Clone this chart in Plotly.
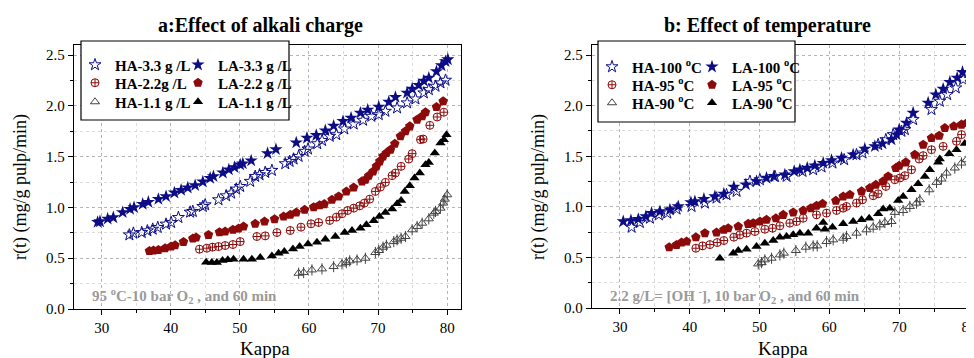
import plotly.graph_objects as go

# ---------------- Panel a: effect of alkali charge ----------------
a_la33_k = [29.42,29.76,30.87,31.69,33.04,34.11,34.69,35.94,36.76,38.21,39.32,40.53,41.50,42.46,43.53,44.64,45.70,46.18,47.54,48.41,49.23,50.05,50.43,51.64,54.01,55.22,58.16,59.71,61.06,62.37,63.57,64.93,66.09,67.44,68.50,70.10,71.55,72.51,74.20,74.93,75.89,76.62,77.34,78.45,79.18,79.76,80.10]
a_la33_r = [0.855,0.862,0.888,0.901,0.951,0.984,1.000,1.033,1.053,1.082,1.109,1.145,1.171,1.194,1.217,1.253,1.289,1.306,1.342,1.372,1.395,1.421,1.431,1.461,1.533,1.572,1.638,1.684,1.711,1.757,1.803,1.849,1.882,1.931,1.961,1.990,2.039,2.086,2.128,2.168,2.204,2.247,2.276,2.339,2.398,2.438,2.457]

a_ha33_k = [34.01,34.59,35.80,36.62,37.39,38.12,39.32,40.05,41.11,42.80,43.19,44.64,44.98,46.91,48.02,48.74,49.47,50.05,51.50,52.22,52.85,53.67,54.64,56.57,57.20,57.78,58.50,59.37,59.86,61.20,61.90,63.00,63.96,65.12,66.47,67.83,69.03,70.10,71.06,72.75,74.20,75.41,76.62,77.34,78.31,79.03,79.76]
a_ha33_r = [0.730,0.747,0.753,0.770,0.786,0.803,0.836,0.852,0.901,0.954,0.961,1.010,1.026,1.076,1.115,1.141,1.181,1.207,1.257,1.306,1.322,1.345,1.365,1.431,1.454,1.477,1.503,1.553,1.576,1.628,1.660,1.701,1.717,1.773,1.822,1.859,1.898,1.914,1.947,1.980,2.030,2.069,2.128,2.161,2.194,2.227,2.253]

a_la22_k = [36.91,37.49,38.21,39.18,40.05,40.63,41.84,43.19,43.67,45.46,47.05,47.87,48.99,49.81,50.53,52.22,53.57,55.02,56.33,57.29,58.16,59.37,60.68,61.55,62.22,63.33,64.30,65.41,66.47,67.68,68.16,68.65,69.28,69.76,70.24,70.72,71.21,71.79,72.42,73.24,73.96,74.59,75.65,76.38,76.86,78.45,79.42]
a_la22_r = [0.572,0.576,0.582,0.599,0.615,0.628,0.661,0.694,0.704,0.730,0.757,0.763,0.780,0.793,0.813,0.839,0.862,0.885,0.911,0.928,0.951,0.977,1.003,1.023,1.033,1.076,1.109,1.158,1.197,1.257,1.273,1.313,1.355,1.405,1.454,1.503,1.536,1.569,1.628,1.701,1.750,1.799,1.865,1.898,1.938,1.990,2.046]

a_ha22_k = [44.15,45.22,46.04,46.91,47.87,48.99,50.05,52.46,53.67,55.36,57.29,58.84,60.29,61.40,63.00,63.96,64.78,65.60,66.47,67.34,68.02,68.79,69.61,70.34,71.06,72.03,72.51,73.33,74.44,74.93,76.14,76.52,77.49,78.55,79.52]
a_ha22_r = [0.589,0.599,0.609,0.615,0.625,0.635,0.664,0.714,0.720,0.753,0.773,0.806,0.839,0.852,0.872,0.905,0.938,0.970,0.993,1.016,1.043,1.082,1.158,1.201,1.247,1.313,1.339,1.405,1.477,1.530,1.668,1.674,1.809,1.891,1.938]

a_la11_k = [45.12,45.94,46.67,47.49,48.26,49.08,50.53,51.74,52.95,54.64,55.60,56.43,57.68,58.65,59.86,61.16,62.37,63.82,65.17,66.23,67.44,68.31,69.37,70.19,71.06,72.03,72.75,73.33,73.86,74.59,75.27,76.04,76.86,77.34,78.21,79.03,79.52,79.90]
a_la11_r = [0.461,0.457,0.457,0.477,0.484,0.490,0.490,0.490,0.507,0.523,0.549,0.566,0.592,0.615,0.641,0.658,0.688,0.714,0.753,0.773,0.796,0.829,0.868,0.911,0.951,0.984,1.036,1.069,1.158,1.214,1.289,1.339,1.421,1.444,1.536,1.635,1.668,1.717]

a_ha11_k = [58.50,59.23,60.43,61.88,63.57,64.78,65.41,65.89,66.96,68.16,69.61,70.10,70.72,71.21,72.27,72.75,73.33,73.96,74.93,75.65,76.38,77.34,78.07,78.31,79.03,79.42,79.66,80.00]
a_ha11_r = [0.352,0.359,0.385,0.395,0.418,0.444,0.457,0.474,0.484,0.500,0.556,0.576,0.609,0.628,0.664,0.681,0.697,0.714,0.780,0.813,0.845,0.888,0.944,0.961,0.993,1.043,1.082,1.125]

# ---------------- Panel b: effect of temperature ----------------
b_la100_k = [30.48,31.58,32.63,33.72,34.53,35.73,37.16,38.35,40.17,40.74,42.03,43.60,44.89,46.32,48.04,49.57,51.00,52.05,53.63,54.96,55.78,56.83,57.92,59.12,60.31,61.74,63.41,65.08,66.52,67.61,68.90,69.62,70.00,71.05,72.00,74.15,75.25,76.30,77.26,78.31,79.07]
b_la100_r = [0.855,0.865,0.878,0.905,0.938,0.954,0.971,1.004,1.044,1.054,1.077,1.103,1.129,1.196,1.219,1.252,1.285,1.301,1.318,1.351,1.367,1.384,1.407,1.433,1.460,1.483,1.516,1.572,1.598,1.625,1.664,1.714,1.764,1.830,1.929,2.028,2.110,2.166,2.233,2.275,2.332]

b_ha100_k = [31.67,32.86,34.30,35.58,36.78,38.11,40.26,42.17,43.84,45.27,46.71,48.62,50.05,52.20,53.87,56.16,57.68,58.88,60.45,62.12,63.89,64.75,66.99,68.09,69.14,70.33,70.81,72.00,74.63,75.82,76.87,78.11,79.16]
b_ha100_r = [0.799,0.845,0.888,0.921,0.938,0.978,1.004,1.037,1.087,1.120,1.153,1.252,1.268,1.301,1.301,1.351,1.367,1.394,1.433,1.466,1.516,1.532,1.615,1.664,1.714,1.747,1.764,1.863,1.962,2.044,2.110,2.176,2.259]

b_la95_k = [37.06,38.11,38.83,39.55,40.88,42.17,43.84,44.89,45.51,46.95,48.38,49.09,50.05,51.00,52.34,53.39,54.82,56.25,57.35,58.16,59.02,60.93,61.98,62.94,64.61,65.80,66.66,67.71,68.42,69.52,70.00,70.95,72.24,73.44,74.63,75.73,76.54,77.83,78.93,79.74]
b_la95_r = [0.601,0.624,0.647,0.657,0.700,0.740,0.746,0.773,0.789,0.806,0.832,0.839,0.855,0.872,0.888,0.921,0.945,0.964,0.987,1.011,1.030,1.060,1.103,1.120,1.153,1.186,1.219,1.252,1.301,1.384,1.407,1.440,1.516,1.615,1.681,1.704,1.780,1.797,1.813,1.830]

b_ha95_k = [40.88,41.84,42.89,43.94,44.89,46.32,47.18,48.14,49.33,50.76,51.86,52.91,54.34,55.30,56.25,58.16,59.59,61.03,61.98,62.46,63.89,64.75,66.28,66.99,68.09,69.38,70.10,70.81,71.77,72.86,73.44,74.63,76.30,78.21,78.93]
b_ha95_r = [0.591,0.614,0.627,0.647,0.667,0.700,0.723,0.740,0.756,0.779,0.789,0.812,0.839,0.855,0.888,0.921,0.938,0.964,0.987,1.004,1.037,1.070,1.110,1.129,1.202,1.268,1.285,1.308,1.367,1.473,1.506,1.565,1.598,1.648,1.714]

b_la90_k = [44.32,46.23,46.95,48.14,49.57,50.76,51.96,52.91,53.87,54.82,55.78,56.97,58.16,59.12,59.36,60.45,61.98,63.41,64.61,65.70,66.99,67.71,68.66,69.86,70.57,71.77,72.72,73.68,74.39,75.58,75.82,77.16,78.21,79.40]
b_la90_r = [0.492,0.542,0.568,0.581,0.608,0.641,0.667,0.700,0.707,0.723,0.740,0.740,0.789,0.845,0.779,0.799,0.832,0.855,0.872,0.888,0.931,0.978,0.987,1.063,1.103,1.169,1.229,1.301,1.367,1.440,1.473,1.526,1.565,1.625]

b_ha90_k = [49.81,50.29,50.76,51.72,52.91,53.48,55.20,56.63,57.68,58.26,59.59,60.55,61.98,62.46,63.89,65.32,66.28,67.23,67.95,68.90,69.38,70.57,71.53,72.48,72.96,74.30,75.35,76.06,76.78,77.97,78.93,79.64]
b_ha90_r = [0.436,0.449,0.476,0.492,0.525,0.542,0.568,0.601,0.614,0.614,0.657,0.674,0.690,0.707,0.740,0.773,0.799,0.822,0.845,0.855,0.945,0.964,1.004,1.037,1.070,1.169,1.242,1.275,1.334,1.384,1.433,1.466]

# ---------------- Text ----------------
title_a = "a:Effect of alkali charge"
title_b = "b: Effect of temperature"
x_title = "Kappa"
y_title = "r(t) (mg/g pulp/min)"
note_a = "95 <sup>o</sup>C-10 bar O<sub>2</sub> , and 60 min"
note_b = "2.2 g/L= [OH <sup>-</sup>], 10 bar O<sub>2</sub> , and 60 min"
x_ticks = [30, 40, 50, 60, 70, 80]
y_ticks = [0.0, 0.5, 1.0, 1.5, 2.0, 2.5]

NAVY = "#0c0c86"
RED = "#8c0a0a"
GREY = "#444444"
BLACK = "#000000"
SERIF = "Liberation Serif, Times New Roman, serif"

# the page body has an 8 px margin: the figure is placed at (8, 8) in the window
OFF = 8
W, H = 974 - OFF, 358 - OFF
def px(x):
    return (x - OFF) / W
def py(y):
    return (H - (y - OFF)) / H

fig = go.Figure()

def add(k, r, name, symbol, color, size, xa, ya, legend, open_=False, show=True):
    marker = dict(symbol=symbol, color=color, size=size)
    if open_:
        marker["line"] = dict(color=color, width=1)
    else:
        marker["line"] = dict(width=0)
    fig.add_trace(go.Scatter(x=k, y=r, mode="markers", name=name, marker=marker,
                             xaxis=xa, yaxis=ya, legend=legend, showlegend=show))

# panel a
add(a_ha33_k, a_ha33_r, "HA-3.3 g /L", "star-open", NAVY, 9, "x", "y", "legend", True)
add(a_ha22_k, a_ha22_r, "HA-2.2g /L", "circle-cross-open", RED, 8, "x", "y", "legend2", True)
add(a_ha11_k, a_ha11_r, "HA-1.1 g /L", "triangle-up-open", GREY, 8, "x", "y", "legend3", True)
add(a_ha11_k, a_ha11_r, "HA-1.1 g /L", "line-ns-open", GREY, 8, "x", "y", "legend3", True, False)
add(a_la33_k, a_la33_r, "LA-3.3 g /L", "star", NAVY, 10, "x", "y", "legend4")
add(a_la22_k, a_la22_r, "LA-2.2 g /L", "pentagon", RED, 10, "x", "y", "legend5")
add(a_la11_k, a_la11_r, "LA-1.1 g /L", "triangle-up", BLACK, 9, "x", "y", "legend6")
# panel b
add(b_ha100_k, b_ha100_r, "HA-100 <sup>o</sup>C", "star-open", NAVY, 9, "x2", "y2", "legend7", True)
add(b_ha95_k, b_ha95_r, "HA-95 <sup>o</sup>C", "circle-cross-open", RED, 8, "x2", "y2", "legend8", True)
add(b_ha90_k, b_ha90_r, "HA-90 <sup>o</sup>C", "triangle-up-open", GREY, 8, "x2", "y2", "legend9", True)
add(b_ha90_k, b_ha90_r, "HA-90 <sup>o</sup>C", "line-ns-open", GREY, 8, "x2", "y2", "legend9", True, False)
add(b_la100_k, b_la100_r, "LA-100 <sup>o</sup>C", "star", NAVY, 10, "x2", "y2", "legend10")
add(b_la95_k, b_la95_r, "LA-95 <sup>o</sup>C", "pentagon", RED, 10, "x2", "y2", "legend11")
add(b_la90_k, b_la90_r, "LA-90 <sup>o</sup>C", "triangle-up", BLACK, 9, "x2", "y2", "legend12")

AX_FONT = dict(family=SERIF, size=15, color="black")

def xaxis(domain, rng, anchor):
    return dict(domain=domain, range=rng, anchor=anchor, tickvals=x_ticks,
                ticks="outside", ticklen=5, tickwidth=1, tickcolor="black",
                ticklabeloverflow="allow",
                showline=True, linecolor="black", linewidth=1.3, mirror=True,
                showgrid=True, gridcolor="#b4b4b4", griddash="dot", gridwidth=1,
                minor=dict(dtick=5, tick0=0, ticks="outside", ticklen=3, tickcolor="black",
                           showgrid=True, gridcolor="#dcdcdc", griddash="dot"),
                zeroline=False, automargin=False, tickfont=AX_FONT)

def yaxis(domain, anchor):
    return dict(domain=domain, range=[0, 2.6], anchor=anchor, tickvals=y_ticks,
                tickformat=".1f",
                ticks="outside", ticklen=5, tickwidth=1, tickcolor="black",
                showline=True, linecolor="black", linewidth=1.3, mirror=True,
                showgrid=True, gridcolor="#b4b4b4", griddash="dot", gridwidth=1,
                minor=dict(dtick=0.25, tick0=0, ticks="outside", ticklen=3, tickcolor="black",
                           showgrid=True, gridcolor="#dcdcdc", griddash="dot"),
                zeroline=False, automargin=False, tickfont=AX_FONT)

def top_axis(over, anchor, rng):
    return dict(overlaying=over, anchor=anchor, side="top", range=rng, tickvals=x_ticks,
                ticks="inside", ticklen=5, tickcolor="black", showticklabels=False,
                showgrid=False, zeroline=False, showline=False, automargin=False,
                minor=dict(dtick=5, tick0=0, ticks="inside", ticklen=3, tickcolor="black",
                           showgrid=False))

def right_axis(over, anchor):
    return dict(overlaying=over, anchor=anchor, side="right", range=[0, 2.6], tickvals=y_ticks,
                ticks="inside", ticklen=5, tickcolor="black", showticklabels=False,
                showgrid=False, zeroline=False, showline=False, automargin=False,
                minor=dict(dtick=0.25, tick0=0, ticks="inside", ticklen=3, tickcolor="black",
                           showgrid=False))

xdom_a = [px(74), px(461)]
xdom_b = [px(592), 1.0]
ydom_a = [py(309), py(45)]
ydom_b = [py(308), py(45)]
xr_a = [26, 82]
xr_b = [26, 80.72]

LEG_FONT = dict(family=SERIF, size=15, color="black", weight="bold")

def legend(text_x, row_y):
    return dict(x=px(text_x - 40), y=py(row_y), xanchor="left", yanchor="middle",
                xref="paper", yref="paper", bgcolor="rgba(0,0,0,0)", borderwidth=0,
                itemwidth=30, font=LEG_FONT)

legends = {}
rows_a = [65, 83, 102]
rows_b = [67, 85, 103]
names = ["legend", "legend2", "legend3", "legend4", "legend5", "legend6",
         "legend7", "legend8", "legend9", "legend10", "legend11", "legend12"]
pos = ([(115, y) for y in rows_a] + [(218, y) for y in rows_a]
       + [(632, y) for y in rows_b] + [(732, y) for y in rows_b])
for n, (tx, ty) in zip(names, pos):
    legends[n] = legend(tx, ty)

fig.update_layout(
    width=W, height=H,
    margin=dict(l=0, r=0, t=0, b=0),
    paper_bgcolor="white", plot_bgcolor="white",
    xaxis=xaxis(xdom_a, xr_a, "y"),
    yaxis=yaxis(ydom_a, "x"),
    xaxis2=xaxis(xdom_b, xr_b, "y2"),
    yaxis2=yaxis(ydom_b, "x2"),
    xaxis3=top_axis("x", "y", xr_a),
    yaxis3=right_axis("y", "x"),
    xaxis4=top_axis("x2", "y2", xr_b),
    yaxis4=right_axis("y2", "x2"),
    showlegend=True,
    **legends,
)

# legend boxes
for (x0, y0, x1, y1) in [(81, 41, 289, 120), (598, 41, 795, 122)]:
    fig.add_shape(type="rect", xref="paper", yref="paper",
                  x0=px(x0), x1=px(x1), y0=py(y1), y1=py(y0),
                  fillcolor="white", line=dict(color="black", width=1.2), layer="above")

ann = []
for txt, x in [(title_a, 260), (title_b, 767)]:
    ann.append(dict(text="<b>" + txt + "</b>", x=px(x), y=py(25), xref="paper", yref="paper",
                    showarrow=False, xanchor="center", yanchor="middle",
                    font=dict(family=SERIF, size=20, color="black")))
for x in [265, 783]:
    ann.append(dict(text=x_title, x=px(x), y=py(348), xref="paper", yref="paper",
                    showarrow=False, xanchor="center", yanchor="middle",
                    font=dict(family=SERIF, size=19, color="black")))
for x in [20, 538]:
    ann.append(dict(text=y_title, x=px(x), y=py(187), xref="paper", yref="paper",
                    showarrow=False, xanchor="center", yanchor="middle", textangle=-90,
                    font=dict(family=SERIF, size=18, color="black")))
for txt, x in [(note_a, 90), (note_b, 608)]:
    ann.append(dict(text="<b>" + txt + "</b>", x=px(x), y=py(296), xref="paper", yref="paper",
                    showarrow=False, xanchor="left", yanchor="middle",
                    font=dict(family=SERIF, size=15, color="#9a9a9a")))
fig.update_layout(annotations=ann)

fig.write_html("out.html")
